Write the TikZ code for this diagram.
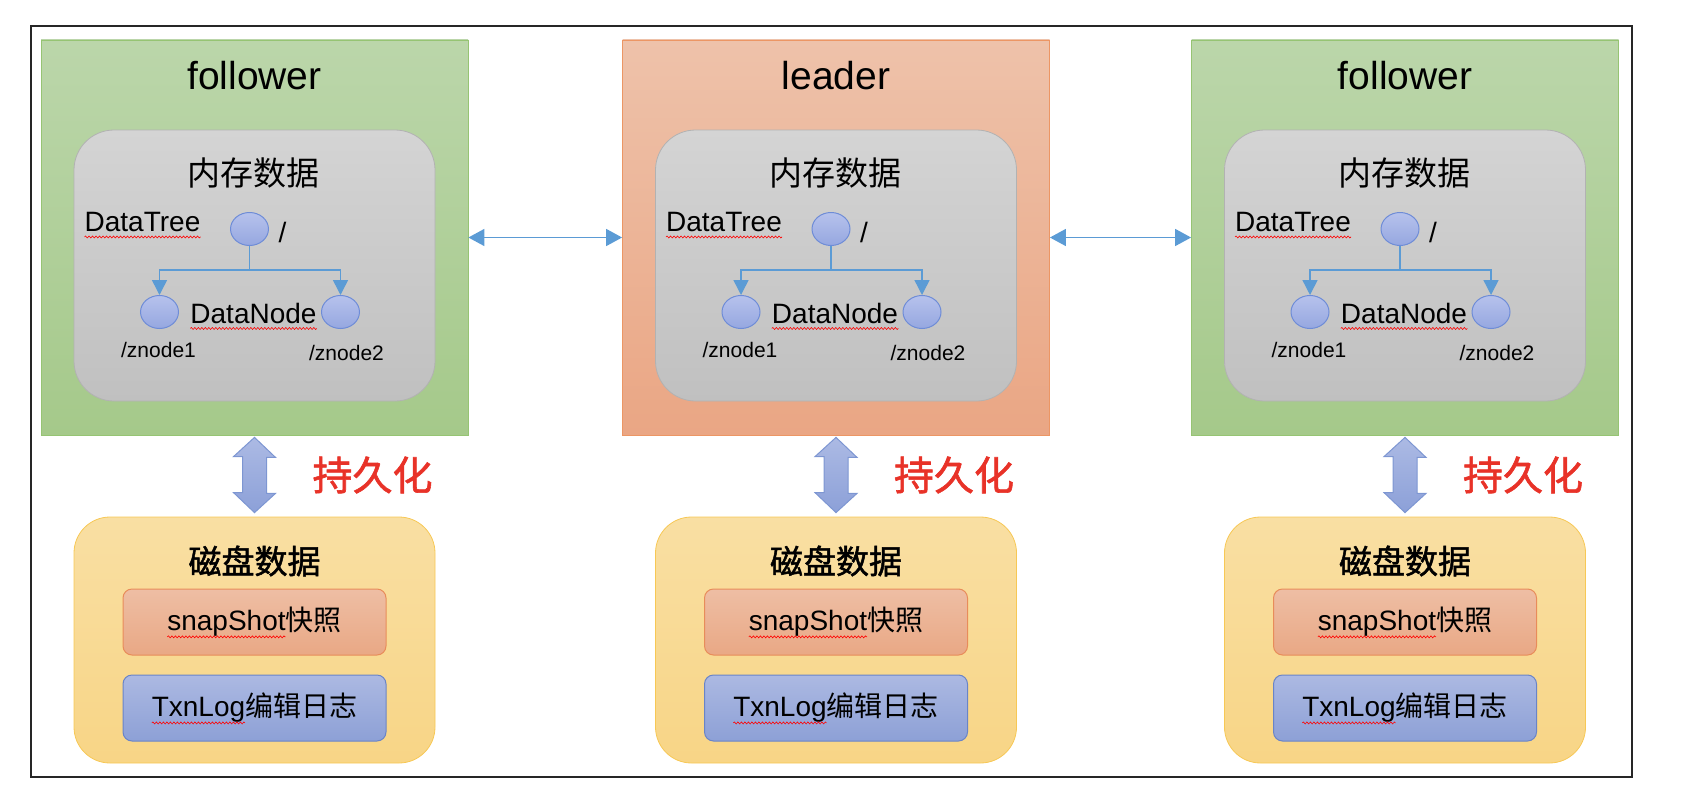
\documentclass[tikz,border=0pt]{standalone}
\usepackage{fontspec}
\setmainfont{Liberation Sans}
\newfontfamily\cjk{Noto Sans CJK SC}
\newfontfamily\cjkbold[FakeBold=1.5]{Noto Sans CJK SC}
\usepackage{xcolor}
\usepackage{tikz}
\usetikzlibrary{arrows.meta, positioning, calc, shapes.geometric, decorations.pathmorphing}

\definecolor{folTop}{RGB}{187,214,170}
\definecolor{folBot}{RGB}{165,201,138}
\definecolor{folLine}{RGB}{150,196,115}
\definecolor{leadTop}{RGB}{238,194,170}
\definecolor{leadBot}{RGB}{234,166,132}
\definecolor{leadLine}{RGB}{236,150,100}
\definecolor{memTop}{RGB}{212,212,212}
\definecolor{memBot}{RGB}{192,192,192}
\definecolor{memLine}{RGB}{178,178,178}
\definecolor{diskTop}{RGB}{249,223,163}
\definecolor{diskBot}{RGB}{248,213,134}
\definecolor{diskLine}{RGB}{247,200,85}
\definecolor{snapTop}{RGB}{238,190,164}
\definecolor{snapBot}{RGB}{233,168,133}
\definecolor{snapLine}{RGB}{232,140,90}
\definecolor{logTop}{RGB}{172,185,226}
\definecolor{logBot}{RGB}{141,160,214}
\definecolor{logLine}{RGB}{105,132,200}
\definecolor{nodeTop}{RGB}{182,194,236}
\definecolor{nodeBot}{RGB}{150,167,224}
\definecolor{nodeLine}{RGB}{110,140,215}
\definecolor{linkblue}{RGB}{91,155,213}
\definecolor{fatTop}{RGB}{172,186,228}
\definecolor{fatBot}{RGB}{140,160,216}
\definecolor{fatLine}{RGB}{125,150,210}
\definecolor{persistred}{RGB}{232,50,40}

\newlength\snapw
\newlength\logw

\begin{document}
\settowidth{\snapw}{\fontsize{28pt}{32pt}\selectfont snapShot}
\settowidth{\logw}{\fontsize{28pt}{32pt}\selectfont TxnLog}
\begin{tikzpicture}[
		x=1pt, y=-1pt,
		panel/.style={draw, line width=0.8pt, minimum width=427pt, minimum height=395pt, inner sep=0pt},
		followerbox/.style={top color=folTop, bottom color=folBot, draw=folLine},
		leaderbox/.style={top color=leadTop, bottom color=leadBot, draw=leadLine},
		role/.style={font=\fontsize{39pt}{43pt}\selectfont},
		membox/.style={draw=memLine, line width=0.8pt, rounded corners=40pt, top color=memTop, bottom color=memBot, minimum width=361pt, minimum height=271pt},
		diskbox/.style={draw=diskLine, line width=0.8pt, rounded corners=36pt, top color=diskTop, bottom color=diskBot, minimum width=361pt, minimum height=246pt},
		filebox/.style={line width=1pt, rounded corners=9pt, minimum width=263pt, minimum height=66pt, inner sep=0pt, font=\fontsize{28pt}{32pt}\selectfont},
		snapbox/.style={filebox, draw=snapLine, top color=snapTop, bottom color=snapBot},
		logbox/.style={filebox, draw=logLine, top color=logTop, bottom color=logBot},
		heading/.style={font=\fontsize{33pt}{38pt}\selectfont},
		label/.style={font=\fontsize{28pt}{32pt}\selectfont, inner sep=0pt},
		path/.style={font=\fontsize{21pt}{24pt}\selectfont, inner sep=0pt},
		znode/.style={ellipse, draw=nodeLine, line width=1pt, top color=nodeTop, bottom color=nodeBot, minimum width=38pt, minimum height=33pt, inner sep=0pt},
		treelink/.style={draw=linkblue, line width=1.5pt, -{Triangle[length=15pt, width=15pt]}},
		peerlink/.style={draw=linkblue, line width=1.5pt, {Triangle[length=16pt, width=17pt]}-{Triangle[length=16pt, width=17pt]}},
		fatarrow/.style={draw=fatLine, line width=1pt, top color=fatTop, bottom color=fatBot},
		persist/.style={text=persistred, font=\fontsize{40pt}{44pt}\selectfont\cjkbold},
		spellwave/.style={draw=red, line width=0.6pt, decorate, decoration={snake, amplitude=1pt, segment length=3.5pt}}
		]
		
		\useasboundingbox (0,0) rectangle (1704,800);
		\draw[line width=1.6pt, black!85] (31,26) rectangle (1632,777);
		
		% One server per column
		\foreach \i/\cx/\role/\sty in {1/254.5/follower/followerbox, 2/836/leader/leaderbox, 3/1405/follower/followerbox} {
			\node[panel, \sty] (panel\i) at (\cx,237.5) {};
			\node[role] (role\i) at (\cx,76) {\role};
			
			% Memory data tree
			\node[membox] (mem\i) at (\cx,265.5) {};
			\node[heading] (memtitle\i) at (\cx-1,173) {\cjk 内存数据};
			\node[label] (tree\i) at (\cx-112,222) {DataTree};
			\node[znode] (root\i) at (\cx-5,229) {};
			\node[label] (slash\i) at (\cx+28,232) {/};
			\node[znode] (left\i) at (\cx-95,312) {};
			\node[znode] (right\i) at (\cx+86,312) {};
			\node[label] (dnode\i) at (\cx-1,313) {DataNode};
			\node[path] (zone\i) at (\cx-96,350) {/znode1};
			\node[path] (ztwo\i) at (\cx+92,353) {/znode2};
			\draw[treelink] (root\i.south) -- ++(0,24) -| (left\i.north);
			\draw[treelink] (root\i.south) -- ++(0,24) -| (right\i.north);
			\draw[spellwave] ($(tree\i.south west)+(0,5)$) -- ($(tree\i.south east)+(0,5)$);
			\draw[spellwave] ($(dnode\i.south west)+(0,5)$) -- ($(dnode\i.south east)+(0,5)$);
			
			% Disk data
			\node[diskbox] (disk\i) at (\cx,640) {};
			\node[heading] (disktitle\i) at (\cx,561) {\cjkbold 磁盘数据};
			\node[snapbox] (snap\i) at (\cx,622) {snapShot{\cjk 快照}};
			\node[logbox] (log\i) at (\cx,708) {TxnLog{\cjk 编辑日志}};
			\draw[spellwave] ($(snap\i.text)+(0,6)$) -- ++(\snapw,0);
			\draw[spellwave] ($(log\i.text)+(0,6)$) -- ++(\logw,0);
			
			% Persistence arrow
			\draw[fatarrow] ($(panel\i.south)+(0,2)$) -- ++(21,20) -- ++(-9,0) -- ++(0,36) -- ++(9,0)
				-- ($(disk\i.north)+(0,-4)$) -- ++(-21,-20) -- ++(9,0) -- ++(0,-36) -- ++(-9,0) -- cycle;
			\node[persist] (persist\i) at (\cx+118,475) {持久化};
		}
		
		% Links between servers
		\draw[peerlink] (panel1) -- (panel2);
		\draw[peerlink] (panel2) -- (panel3);
		
	\end{tikzpicture}
\end{document}
